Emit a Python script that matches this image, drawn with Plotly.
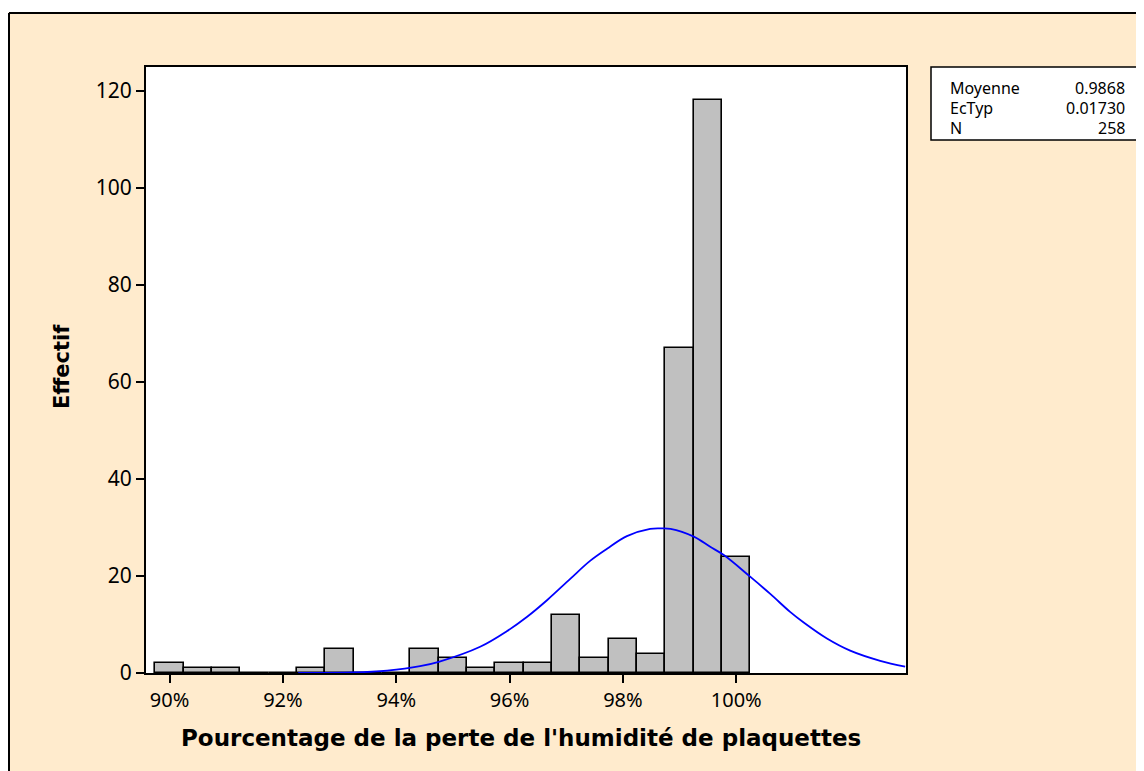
import plotly.graph_objects as go

# Histogram bins (centres, fraction) and counts
bin_centers = [0.900, 0.905, 0.910, 0.915, 0.920, 0.925, 0.930, 0.935, 0.940, 0.945,
               0.950, 0.955, 0.960, 0.965, 0.970, 0.975, 0.980, 0.985, 0.990, 0.995, 1.000]
counts = [2, 1, 1, 0, 0, 1, 5, 0, 0, 5,
          3, 1, 2, 2, 12, 3, 7, 4, 67, 118, 24]
bin_width = 0.005

# Fitted normal curve
curve_x = [0.9227, 0.9324, 0.9384, 0.9442, 0.9475, 0.9548, 0.9595, 0.9631, 0.9666,
           0.9707, 0.9742, 0.9772, 0.9807, 0.9848, 0.9868, 0.9884, 0.9925, 0.9954,
           0.9978, 1.0025, 1.0060, 1.0095, 1.0119, 1.0160, 1.0201, 1.0254, 1.0298]
curve_y = [0.0, 0.1, 0.5, 1.4, 2.3, 5.4, 8.6, 11.6, 15.0,
           19.4, 23.1, 25.6, 28.2, 29.7, 29.8, 29.7, 28.1, 26.0,
           24.3, 19.8, 16.3, 12.6, 10.4, 7.1, 4.6, 2.5, 1.3]

tick_vals = [0.90, 0.92, 0.94, 0.96, 0.98, 1.00]
tick_text = ["90%", "92%", "94%", "96%", "98%", "100%"]
y_ticks = [0, 20, 40, 60, 80, 100, 120]

stat_labels = ["Moyenne", "EcTyp", "N"]
stat_values = ["0.9868", "0.01730", "258"]

x_title = "Pourcentage de la perte de l'humidité de plaquettes"
y_title = "Effectif"

BEIGE = "#FFEBCD"
FONT = "Noto Sans"
TFONT = "DejaVu Sans"

OFF = 8  # page body margin offset
W, H = 1144 - OFF, 771 - OFF
L, T = 146 - OFF, 67 - OFF
R, B = W - (906 - OFF), H - (673 - OFF)
PW, PH = W - L - R, H - T - B

def px2x(px):  # px in page coordinates
    return (px - OFF - L) / PW

def py2y(py):
    return (H - B - (py - OFF)) / PH

fig = go.Figure()
fig.add_trace(go.Bar(
    x=bin_centers, y=counts, width=bin_width,
    marker=dict(color="#C0C0C0", line=dict(color="black", width=1.6)),
    showlegend=False, hoverinfo="x+y",
))
fig.add_trace(go.Scatter(
    x=curve_x, y=curve_y, mode="lines",
    line=dict(color="#0000FF", width=1.8, shape="spline", smoothing=1.0),
    showlegend=False, cliponaxis=True,
))

shapes = [
    # white strip above the beige frame
    dict(type="rect", xref="paper", yref="paper", x0=-0.5, x1=1.5,
         y0=py2y(12.5), y1=1.3, fillcolor="white", line=dict(width=0), layer="below"),
    # frame lines
    dict(type="line", xref="paper", yref="paper", x0=px2x(9), x1=1.5,
         y0=py2y(13), y1=py2y(13), line=dict(color="black", width=2)),
    dict(type="line", xref="paper", yref="paper", x0=px2x(9), x1=px2x(9),
         y0=-0.3, y1=py2y(13), line=dict(color="black", width=2)),
    # stats box
    dict(type="rect", xref="paper", yref="paper", x0=px2x(931), x1=px2x(1138),
         y0=py2y(140), y1=py2y(67), fillcolor="white", line=dict(color="black", width=1.5)),
]

annotations = []
rows_py = [88, 108, 128]
for lab, val, py in zip(stat_labels, stat_values, rows_py):
    annotations.append(dict(xref="paper", yref="paper", x=px2x(948), y=py2y(py),
                            text=lab, showarrow=False, xanchor="left", yanchor="middle",
                            font=dict(family=FONT, size=16, color="black")))
    annotations.append(dict(xref="paper", yref="paper", x=px2x(1127), y=py2y(py),
                            text=val, showarrow=False, xanchor="right", yanchor="middle",
                            font=dict(family=FONT, size=16, color="black")))
annotations.append(dict(xref="paper", yref="paper", x=px2x(521), y=py2y(738),
                        text="<b>" + x_title + "</b>", showarrow=False,
                        xanchor="center", yanchor="middle",
                        font=dict(family=TFONT, size=23, color="black")))
annotations.append(dict(xref="paper", yref="paper", x=px2x(62), y=py2y(367),
                        text="<b>" + y_title + "</b>", showarrow=False, textangle=-90,
                        xanchor="center", yanchor="middle",
                        font=dict(family=TFONT, size=21, color="black")))

fig.update_layout(
    width=W, height=H,
    margin=dict(l=L, r=R, t=T, b=B, autoexpand=False),
    paper_bgcolor=BEIGE, plot_bgcolor="white",
    bargap=0,
    shapes=shapes, annotations=annotations,
    xaxis=dict(range=[0.89584, 1.02995], tickvals=tick_vals, ticktext=tick_text,
               showgrid=False, zeroline=False, showline=True, linecolor="black",
               linewidth=2, mirror=True, ticks="outside", ticklen=8, tickwidth=2,
               tickcolor="black", tickfont=dict(family=FONT, size=20, color="black")),
    yaxis=dict(range=[0, 124.9], tickvals=y_ticks,
               showgrid=False, zeroline=False, showline=True, linecolor="black",
               linewidth=2, mirror=True, ticks="outside", ticklen=8, tickwidth=2,
               tickcolor="black", tickfont=dict(family=FONT, size=21, color="black")),
)

fig.write_html("out.html")
